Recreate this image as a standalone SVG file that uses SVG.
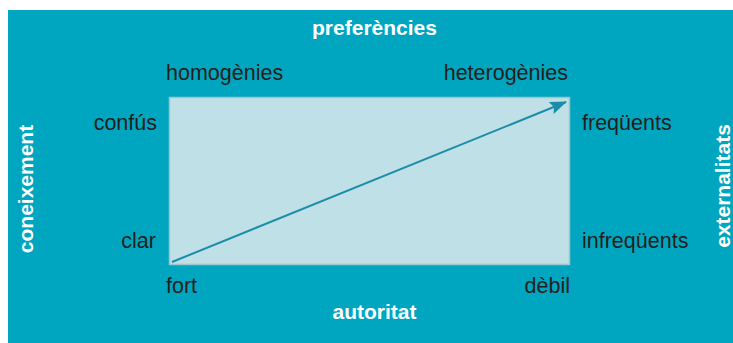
<svg xmlns="http://www.w3.org/2000/svg" width="733" height="343" viewBox="0 0 733 343">
<style>
.lbl{font-family:"Liberation Sans",Arial,sans-serif;font-size:21.5px;fill:#231f20}
.ttl{font-family:"Liberation Sans",Arial,sans-serif;font-size:21px;font-weight:bold;fill:#ffffff}
</style>
<defs>
<marker id="ah2" markerWidth="17" markerHeight="13" refX="16" refY="6.5" orient="auto" markerUnits="userSpaceOnUse" viewBox="0 0 17 13">
<path d="M0,0 L17,6.5 L0,13 L3,6.5 Z" fill="#1a8da9"/>
</marker>
</defs>
<rect x="0" y="0" width="733" height="343" fill="#ffffff"/>
<rect x="8" y="10" width="725" height="333" fill="#00a6bf"/>
<g id="plot">
<rect x="169.5" y="97.5" width="400" height="167" fill="#bfe0e7" stroke="#9ec5cd" stroke-width="1.5"/>
</g>
<g id="connectors">
<line x1="172" y1="262" x2="566" y2="102" stroke="#1a8da9" stroke-width="2" marker-end="url(#ah2)"/>
</g>
<g id="titles">
<text class="ttl" x="374.5" y="35" text-anchor="middle">preferències</text>
<text class="ttl" x="374.5" y="319" text-anchor="middle">autoritat</text>
<text class="ttl" transform="translate(33,189) rotate(-90)" text-anchor="middle">coneixement</text>
<text class="ttl" transform="translate(730,186) rotate(-90)" text-anchor="middle">externalitats</text>
</g>
<g id="labels">
<text class="lbl" x="166" y="80">homogènies</text>
<text class="lbl" x="568" y="80" text-anchor="end">heterogènies</text>
<text class="lbl" x="157" y="130" text-anchor="end">confús</text>
<text class="lbl" x="156" y="248" text-anchor="end">clar</text>
<text class="lbl" x="582" y="130">freqüents</text>
<text class="lbl" x="582" y="248">infreqüents</text>
<text class="lbl" x="166" y="293">fort</text>
<text class="lbl" x="570" y="293" text-anchor="end">dèbil</text>
</g>
</svg>
